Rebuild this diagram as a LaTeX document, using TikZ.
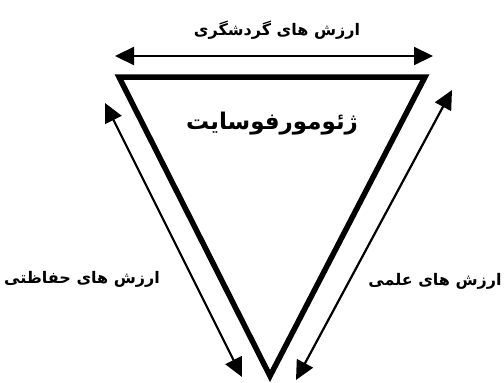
\documentclass[tikz,border=0pt]{standalone}
\usepackage{fontspec}
\usetikzlibrary{arrows.meta}
\TeXXeTstate=1
\newfontfamily\arabicfont[Script=Arabic]{DejaVu Sans}
\begin{document}
\begin{tikzpicture}[x=1pt,y=-1pt,
  tri/.style={line width=5.5pt, line join=miter, miter limit=20},
  dbl/.style={line width=2.2pt,{Triangle[length=19pt,width=18pt]}-{Triangle[length=19pt,width=18pt]}},
  lbl/.style={font=\arabicfont\bfseries\fontsize{16}{19}\selectfont, inner sep=0pt},
  big/.style={font=\arabicfont\bfseries\fontsize{23}{27}\selectfont, inner sep=0pt}]
\useasboundingbox (0,0) rectangle (504,383);
% triangle corners
\coordinate (tl) at (119,77);
\coordinate (tr) at (425,77);
\coordinate (bt) at (270,376);
\draw[tri] (tl) -- (tr) -- (bt) -- cycle;
% arrow ends
\coordinate (ha) at (115,56);
\coordinate (hb) at (433,56);
\coordinate (la) at (105,103);
\coordinate (lb) at (242,377);
\coordinate (ra) at (452,90);
\coordinate (rb) at (296,380);
\draw[dbl] (ha) -- (hb);
\draw[dbl] (la) -- (lb);
\draw[dbl] (ra) -- (rb);
% labels
\node[lbl] (top) at (277,30) {\beginR ارزش های گردشگری\endR};
\node[big] (mid) at (272,124) {\beginR ژئومورفوسایت\endR};
\node[lbl] (left) at (82,279) {\beginR ارزش های حفاظتی\endR};
\node[lbl] (right) at (435,281) {\beginR ارزش های علمی\endR};
\end{tikzpicture}
\end{document}
